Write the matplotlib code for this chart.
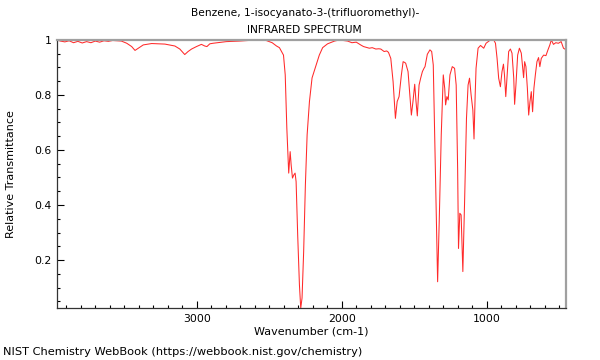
import matplotlib
matplotlib.use('Agg')
import matplotlib.pyplot as plt
from matplotlib.ticker import MultipleLocator, FixedLocator

# spectrum (wavenumber in cm-1, relative transmittance)
wavenumber = [3964, 3940, 3910, 3880, 3850, 3820, 3790, 3760, 3730, 3700, 3670, 3640,
              3610, 3580, 3550, 3520, 3483, 3449, 3426, 3403, 3369, 3311, 3220, 3151,
              3117, 3083, 3060, 3036, 3002, 2968, 2945, 2930, 2910, 2888, 2796, 2704,
              2590, 2521, 2480, 2450, 2430, 2402, 2390, 2379, 2366, 2356, 2349, 2340,
              2331, 2322, 2315, 2304, 2292, 2283, 2274, 2263, 2251, 2239, 2223, 2205,
              2177, 2155, 2132, 2098, 2050, 2017, 1990, 1960, 1930, 1900, 1870, 1850,
              1830, 1810, 1790, 1765, 1745, 1731, 1708, 1690, 1678, 1662, 1646, 1630,
              1618, 1605, 1589, 1577, 1565, 1559, 1543, 1531, 1520, 1509, 1497, 1488,
              1479, 1467, 1456, 1444, 1433, 1426, 1410, 1392, 1380, 1369, 1360, 1348,
              1339, 1328, 1314, 1300, 1290, 1284, 1275, 1266, 1254, 1238, 1222, 1211,
              1201, 1195, 1186, 1177, 1165, 1153, 1140, 1129, 1119, 1108, 1096, 1088,
              1080, 1074, 1060, 1043, 1021, 1005, 975, 952, 940, 929, 918, 906,
              895, 885, 878, 869, 858, 849, 837, 826, 814, 808, 799, 787,
              775, 762, 753, 746, 739, 730, 720, 711, 702, 693, 684, 675,
              665, 654, 643, 634, 624, 608, 592, 578, 565, 555, 540, 524,
              506, 487, 471, 455]
transmittance = [1.0, 0.996, 0.993, 0.997, 0.99, 0.995, 0.989, 0.994, 0.99, 0.996, 0.992, 0.997,
                 0.995, 0.998, 0.997, 0.996, 0.988, 0.976, 0.962, 0.97, 0.982, 0.987, 0.985, 0.978,
                 0.967, 0.947, 0.958, 0.967, 0.976, 0.984, 0.978, 0.976, 0.986, 0.988, 0.994, 0.996,
                 1.0, 0.998, 0.99, 0.978, 0.972, 0.945, 0.873, 0.68, 0.516, 0.594, 0.545, 0.498,
                 0.509, 0.516, 0.485, 0.29, 0.109, 0.025, 0.062, 0.229, 0.473, 0.655, 0.776, 0.862,
                 0.909, 0.945, 0.972, 0.986, 0.996, 1.0, 0.998, 0.996, 0.99, 0.992, 0.982, 0.976,
                 0.973, 0.97, 0.972, 0.967, 0.968, 0.967, 0.958, 0.96, 0.955, 0.933, 0.848, 0.715,
                 0.776, 0.794, 0.873, 0.921, 0.918, 0.915, 0.885, 0.8, 0.727, 0.776, 0.839, 0.776,
                 0.724, 0.836, 0.861, 0.885, 0.897, 0.903, 0.948, 0.964, 0.958, 0.909, 0.67, 0.352,
                 0.121, 0.339, 0.655, 0.873, 0.824, 0.764, 0.794, 0.782, 0.873, 0.903, 0.897, 0.836,
                 0.533, 0.242, 0.37, 0.364, 0.158, 0.412, 0.715, 0.836, 0.861, 0.8, 0.745, 0.64,
                 0.8, 0.897, 0.97, 0.98, 0.97, 0.988, 1.0, 1.0, 0.988, 0.933, 0.861, 0.83,
                 0.885, 0.912, 0.873, 0.794, 0.885, 0.958, 0.967, 0.952, 0.861, 0.766, 0.836, 0.945,
                 0.97, 0.952, 0.903, 0.863, 0.921, 0.903, 0.824, 0.727, 0.776, 0.812, 0.739, 0.824,
                 0.873, 0.921, 0.936, 0.903, 0.933, 0.945, 0.943, 0.964, 0.982, 1.0, 0.984, 0.99,
                 0.988, 0.994, 0.97, 0.965]

x_ticks = [3000, 2000, 1000]
y_ticks = [0.2, 0.4, 0.6, 0.8, 1.0]
y_tick_labels = ['0.2', '0.4', '0.6', '0.8', '1']

plt.rcParams['font.family'] = ['DejaVu Sans']

fig = plt.figure(figsize=(6, 3.6), dpi=100)
ax = fig.add_axes([0.095, 0.144, 0.848, 0.745])

ax.plot(wavenumber, transmittance, color='#ff2a2a', linewidth=0.75)

ax.set_xlim(3964, 455)
ax.set_ylim(0.025, 1.0)

ax.xaxis.set_major_locator(FixedLocator(x_ticks))
ax.xaxis.set_minor_locator(MultipleLocator(100))
ax.set_yticks(y_ticks)
ax.set_yticklabels(y_tick_labels)
ax.yaxis.set_minor_locator(MultipleLocator(0.05))

ax.tick_params(which='both', direction='in', labelsize=7.8, pad=4)
ax.tick_params(which='major', length=5, width=0.8)
ax.tick_params(which='minor', length=2.5, width=0.8)
ax.tick_params(top=False, right=False, which='both')

for side in ['top', 'right']:
    ax.spines[side].set_color('#a0a0a0')
    ax.spines[side].set_linewidth(1.6)
for side in ['left', 'bottom']:
    ax.spines[side].set_color('#333333')
    ax.spines[side].set_linewidth(0.9)

ax.set_xlabel('Wavenumber (cm-1)', fontsize=8, labelpad=2)
ax.set_ylabel('Relative Transmittance', fontsize=8, labelpad=13)

fig.text(0.508, 0.963, 'Benzene, 1-isocyanato-3-(trifluoromethyl)-', ha='center', va='center', fontsize=7.7)
fig.text(0.508, 0.916, 'INFRARED SPECTRUM', ha='center', va='center', fontsize=7.7)
fig.text(0.005, 0.022, 'NIST Chemistry WebBook (https://webbook.nist.gov/chemistry)',
         ha='left', va='center', fontsize=8.2)

plt.savefig('out.png', dpi=100, facecolor='white')
